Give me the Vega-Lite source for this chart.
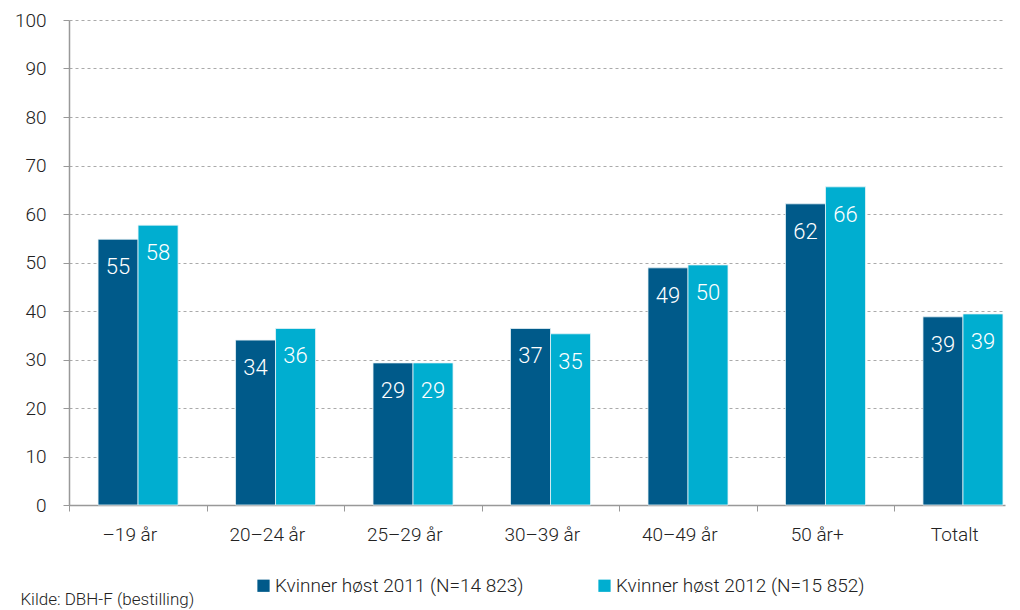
{
  "$schema": "https://vega.github.io/schema/vega-lite/v6.json",
  "width": 936,
  "height": 485,
  "autosize": {"type": "none"},
  "padding": {"left": 69, "top": 20, "right": 15, "bottom": 105},
  "background": "white",
  "config": {"view": {"stroke": null}, "font": "Roboto"},
  "title": {
    "text": "Kilde: DBH-F (bestilling)",
    "orient": "bottom",
    "anchor": "start",
    "dx": 6,
    "offset": -4,
    "fontSize": 17,
    "fontWeight": 300,
    "color": "#222222"
  },
  "data": {
    "values": [
      {"group": "–19 år", "series": "Kvinner høst 2011 (N=14 823)", "value": 54.8, "label": "55"},
      {"group": "–19 år", "series": "Kvinner høst 2012 (N=15 852)", "value": 57.7, "label": "58"},
      {"group": "20–24 år", "series": "Kvinner høst 2011 (N=14 823)", "value": 34.0, "label": "34"},
      {"group": "20–24 år", "series": "Kvinner høst 2012 (N=15 852)", "value": 36.4, "label": "36"},
      {"group": "25–29 år", "series": "Kvinner høst 2011 (N=14 823)", "value": 29.3, "label": "29"},
      {"group": "25–29 år", "series": "Kvinner høst 2012 (N=15 852)", "value": 29.3, "label": "29"},
      {"group": "30–39 år", "series": "Kvinner høst 2011 (N=14 823)", "value": 36.4, "label": "37"},
      {"group": "30–39 år", "series": "Kvinner høst 2012 (N=15 852)", "value": 35.3, "label": "35"},
      {"group": "40–49 år", "series": "Kvinner høst 2011 (N=14 823)", "value": 48.9, "label": "49"},
      {"group": "40–49 år", "series": "Kvinner høst 2012 (N=15 852)", "value": 49.5, "label": "50"},
      {"group": "50 år+", "series": "Kvinner høst 2011 (N=14 823)", "value": 62.1, "label": "62"},
      {"group": "50 år+", "series": "Kvinner høst 2012 (N=15 852)", "value": 65.6, "label": "66"},
      {"group": "Totalt", "series": "Kvinner høst 2011 (N=14 823)", "value": 38.8, "label": "39"},
      {"group": "Totalt", "series": "Kvinner høst 2012 (N=15 852)", "value": 39.4, "label": "39"}
    ]
  },
  "encoding": {
    "x": {
      "field": "group",
      "type": "nominal",
      "sort": null,
      "scale": {"paddingInner": 0.418, "paddingOuter": 0.113, "align": 0.935},
      "axis": {
        "title": null,
        "labelAngle": 0,
        "bandPosition": 0,
        "tickOffset": -28.75,
        "labelOffset": 20,
        "tickSize": 6,
        "tickColor": "#999999",
        "domainColor": "#999999",
        "domainWidth": 1.5,
        "labelFontSize": 19,
        "labelFontWeight": 300,
        "labelColor": "#222222",
        "labelPadding": 14,
        "grid": false
      }
    },
    "xOffset": {"field": "series", "scale": {"paddingInner": 0, "paddingOuter": 0}},
    "y": {
      "field": "value",
      "type": "quantitative",
      "scale": {"domain": [0, 100], "nice": false},
      "axis": {
        "title": null,
        "values": [0, 10, 20, 30, 40, 50, 60, 70, 80, 90, 100],
        "tickSize": 6,
        "tickColor": "#999999",
        "domainColor": "#999999",
        "domainWidth": 1.5,
        "gridColor": "#aaaaaa",
        "gridDash": [3, 3],
        "gridWidth": 1,
        "labelFontSize": 19,
        "labelFontWeight": 300,
        "labelColor": "#222222",
        "labelPadding": 17
      }
    }
  },
  "layer": [
    {
      "mark": {"type": "bar", "stroke": "#e8f4f8", "strokeWidth": 0.8},
      "encoding": {
        "color": {
          "field": "series",
          "type": "nominal",
          "scale": {"range": ["#005A8A", "#00AED0"]},
          "legend": {
            "title": null,
            "orient": "none",
            "direction": "horizontal",
            "legendX": 185,
            "legendY": 556,
            "symbolType": "square",
            "symbolSize": 150,
            "symbolOpacity": 1,
            "symbolStrokeWidth": 0,
            "labelFontSize": 19,
            "labelFontWeight": 300,
            "labelColor": "#222222",
            "labelOffset": 2,
            "labelLimit": 400,
            "columnPadding": 71
          }
        }
      }
    },
    {
      "mark": {"type": "text", "baseline": "top", "dy": 18, "color": "white", "fontSize": 22, "fontWeight": 300},
      "encoding": {"text": {"field": "label"}}
    }
  ]
}
